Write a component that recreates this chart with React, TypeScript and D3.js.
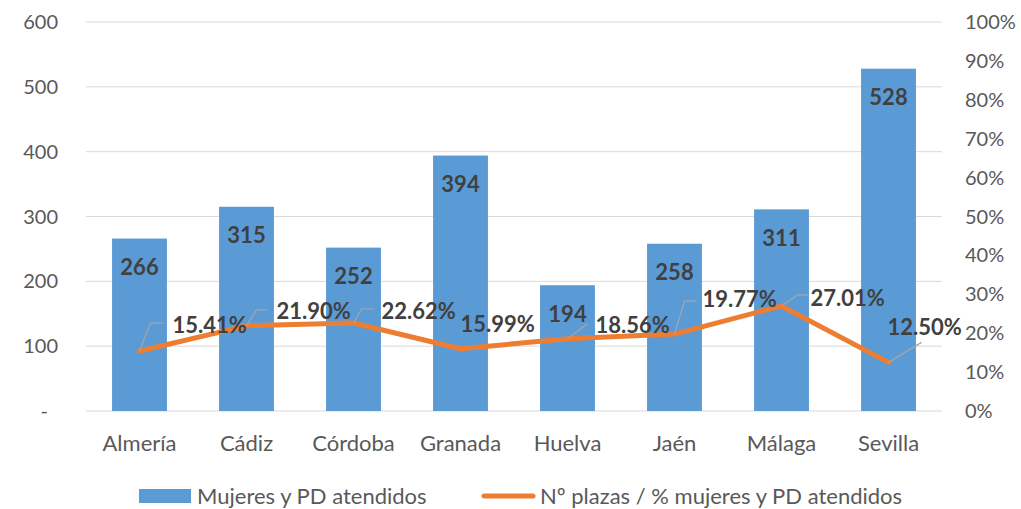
import * as d3 from 'd3'

const provincias = ['Almería', 'Cádiz', 'Córdoba', 'Granada', 'Huelva', 'Jaén', 'Málaga', 'Sevilla']
const atendidos = [266, 315, 252, 394, 194, 258, 311, 528]
const porcentaje = [15.41, 21.9, 22.62, 15.99, 18.56, 19.77, 27.01, 12.5]
const leftTicks = [0, 100, 200, 300, 400, 500, 600]
const rightTicks = [0, 10, 20, 30, 40, 50, 60, 70, 80, 90, 100]

// callout placement for the % labels (leader end / text start relative to the point)
const callouts = [
  { lx: 11, ly: -28, hx: 24, tx: 33 },
  { lx: 10, ly: -16, hx: 21, tx: 30 },
  { lx: 8, ly: -14, hx: 21, tx: 28 },
  { lx: 0, ly: 0, hx: 0, tx: 0 },
  { lx: 20, ly: -15, hx: 20, tx: 28 },
  { lx: 10, ly: -33, hx: 22, tx: 28 },
  { lx: 16, ly: -11, hx: 27, tx: 29 },
  { lx: 33, ly: -20, hx: 33, tx: -1 },
]
const labelY = [325, 311, 311, 324, 325, 299, 298, 327]

const W = 1021
const H = 509
const FONT = 'Lato, "Open Sans", sans-serif'

export default function App() {
  const x = d3.scaleBand().domain(provincias).range([86, 942]).paddingInner(0.487).paddingOuter(0.2435)
  const y = d3.scaleLinear().domain([0, 600]).range([411, 22])
  const y2 = d3.scaleLinear().domain([0, 100]).range([411, 22])
  const cx = (p: string) => (x(p) || 0) + x.bandwidth() / 2

  const line = d3.line<number>()
    .x((_, i) => cx(provincias[i]))
    .y(d => y2(d))

  return (
    <svg width={W} height={H} style={{ position: 'absolute', left: 0, top: 0 }} fontFamily={FONT}>
      <rect width={W} height={H} fill="#fff" />
      {leftTicks.map(t => (
        <g key={t}>
          <line x1={86} x2={942} y1={y(t)} y2={y(t)} stroke="#D9D9D9" strokeWidth={1} />
          <text x={t === 0 ? 48 : 58} y={y(t)} dy="0.35em" textAnchor="end" fontSize={20} fill="#595959">
            {t === 0 ? '-' : t}
          </text>
        </g>
      ))}
      {rightTicks.map(t => (
        <text key={t} x={965} y={y2(t)} dy="0.35em" fontSize={20} fill="#595959">{t}%</text>
      ))}
      {provincias.map((p, i) => (
        <rect key={p} x={x(p)} y={y(atendidos[i])} width={x.bandwidth()} height={y(0) - y(atendidos[i])} fill="#5B9BD5" />
      ))}
      {provincias.map(p => (
        <text key={p} x={cx(p)} y={443} dy="0.35em" textAnchor="middle" fontSize={22} fill="#595959">{p}</text>
      ))}
      {provincias.map((p, i) => (
        <text key={p} x={cx(p)} y={y(atendidos[i]) + 29} dy="0.35em" textAnchor="middle" fontSize={22} fontWeight="bold" fill="#404040">
          {atendidos[i]}
        </text>
      ))}
      <path d={line(porcentaje) || ''} fill="none" stroke="#ED7D31" strokeWidth={5} strokeLinejoin="round" strokeLinecap="round" />
      {porcentaje.map((v, i) => {
        const px = cx(provincias[i])
        const py = y2(v)
        const c = callouts[i]
        return (
          <g key={i}>
            {c.lx !== 0 && (
              <polyline
                points={`${px},${py} ${px + c.lx},${py + c.ly} ${px + c.hx},${py + c.ly}`}
                fill="none" stroke="#A6A6A6" strokeWidth={1.2}
              />
            )}
            <text x={px + c.tx} y={labelY[i]} dy="0.35em" fontSize={22} fontWeight="bold" fill="#404040">
              {v.toFixed(2)}%
            </text>
          </g>
        )
      })}
      <rect x={139} y={489} width={52} height={14} fill="#5B9BD5" />
      <text x={197} y={496} dy="0.35em" fontSize={22} fill="#595959">Mujeres y PD atendidos</text>
      <line x1={484} x2={533} y1={496} y2={496} stroke="#ED7D31" strokeWidth={5} strokeLinecap="round" />
      <text x={540} y={496} dy="0.35em" fontSize={22} fill="#595959">Nº plazas / % mujeres y PD atendidos</text>
    </svg>
  )
}
